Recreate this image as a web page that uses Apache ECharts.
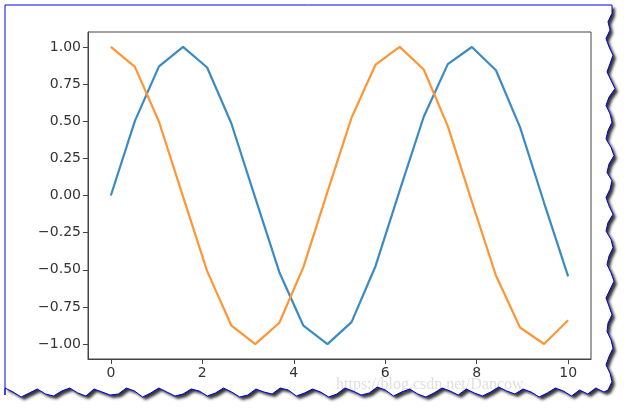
<!DOCTYPE html>
<html><head><meta charset="utf-8">
<script src="https://cdn.jsdelivr.net/npm/echarts@6/dist/echarts.min.js"></script>
<style>html,body{margin:0;padding:0;background:#fff}#c{width:630px;height:411px}</style>
</head><body><div id="c"></div>
<script>
// x = sample positions
const xs = [0, 0.5263, 1.0526, 1.5789, 2.1053, 2.6316, 3.1579, 3.6842, 4.2105, 4.7368,
            5.2632, 5.7895, 6.3158, 6.8421, 7.3684, 7.8947, 8.4211, 8.9474, 9.4737, 10];
const sinVals = [0, 0.502, 0.869, 1.000, 0.861, 0.488, -0.016, -0.516, -0.876, -1.000,
                 -0.852, -0.474, 0.033, 0.530, 0.884, 0.999, 0.843, 0.460, -0.049, -0.544];
const cosVals = [1.000, 0.865, 0.496, -0.008, -0.509, -0.873, -1.000, -0.856, -0.482, 0.024,
                 0.523, 0.881, 1.000, 0.848, 0.467, -0.041, -0.538, -0.888, -0.999, -0.839];
const xTicks = [0, 2, 4, 6, 8, 10];
const yTicks = [-1, -0.75, -0.5, -0.25, 0, 0.25, 0.5, 0.75, 1];

// torn-paper frame decoration
const rightJag = [612,608,610,606,609,613,610,607,611,615,609,606,610,612,608,606,611,614,609,607,612,610,606,609,613,608,606,611,613,609,607,611,614,610,606,609,612,608,607,611,613,609,606,610,612,608];
const bottomJag = [392,388,394,390,396,391,388,393,397,392,389,394,391,387,392,396,393,389,395,391,388,393,397,394,389,392,396,390,387,393,395,391,388,394,397,392,389,393,396,390,388,394,392,389,395,397,392,388,393,396,391,389,394,396,392,388,393,397,391,388,394,395,392,389,396,393,388,391,396,394,389,393,397,392,388];
function framePoints(){
  const pts = [[5,5],[612,5]];
  const n = rightJag.length;
  for (let i=0;i<n;i++) pts.push([rightJag[i], 5 + (i+1)*(385/n)]);
  const m = bottomJag.length;
  for (let i=0;i<m;i++) pts.push([612 - (i+1)*(607/m), bottomJag[i]]);
  pts.push([5,395]);
  return pts;
}

const minus = v => (v < 0 ? '\u2212' + Math.abs(v) : String(v));
const chart = echarts.init(document.getElementById('c'), null, {renderer:'canvas'});
const lineStyleOf = c => ({color:c, width:2.2});
const pts = framePoints();
chart.setOption({
  animation:false,
  backgroundColor:'#fff',
  graphic:[
    {type:'polygon', z:-10, shape:{points:pts},
     style:{fill:'#fff', stroke:null,
            shadowColor:'rgba(0,0,0,0.8)', shadowBlur:3, shadowOffsetX:3, shadowOffsetY:3}},
    {type:'text', z:-8, left:336, top:377,
     style:{text:'https://blog.csdn.net/Dancow', fill:'rgba(150,150,150,0.3)',
            font:'16px "Liberation Serif", serif'}},
    {type:'polygon', z:-6, shape:{points:pts},
     style:{fill:null, stroke:'#0000ee', lineWidth:1}}
  ],
  grid:{left:88, top:32, right:39, bottom:52, show:true, borderColor:'#444', borderWidth:1, backgroundColor:'transparent'},
  xAxis:{type:'value', min:-0.5, max:10.5,
    axisLine:{show:true, onZero:false, lineStyle:{color:'#444'}},
    splitLine:{show:false},
    axisTick:{show:true, length:5, customValues:xTicks, lineStyle:{color:'#444'}},
    axisLabel:{customValues:xTicks, color:'#333', fontSize:14, fontFamily:'DejaVu Sans', margin:7,
               formatter:v=>minus(v)}},
  yAxis:{type:'value', min:-1.1, max:1.1,
    axisLine:{show:true, onZero:false, lineStyle:{color:'#444'}},
    splitLine:{show:false},
    axisTick:{show:true, length:5, customValues:yTicks, lineStyle:{color:'#444'}},
    axisLabel:{customValues:yTicks, color:'#333', fontSize:14, fontFamily:'DejaVu Sans', margin:7,
               formatter:v=>(v<0?'\u2212':'')+Math.abs(v).toFixed(2)}},
  series:[
    {type:'line', data:xs.map((x,i)=>[x,sinVals[i]]), showSymbol:false, lineStyle:lineStyleOf('#3a8ac3'), itemStyle:{color:'#3a8ac3'}},
    {type:'line', data:xs.map((x,i)=>[x,cosVals[i]]), showSymbol:false, lineStyle:lineStyleOf('#ff9535'), itemStyle:{color:'#ff9535'}}
  ]
});
</script></body></html>
